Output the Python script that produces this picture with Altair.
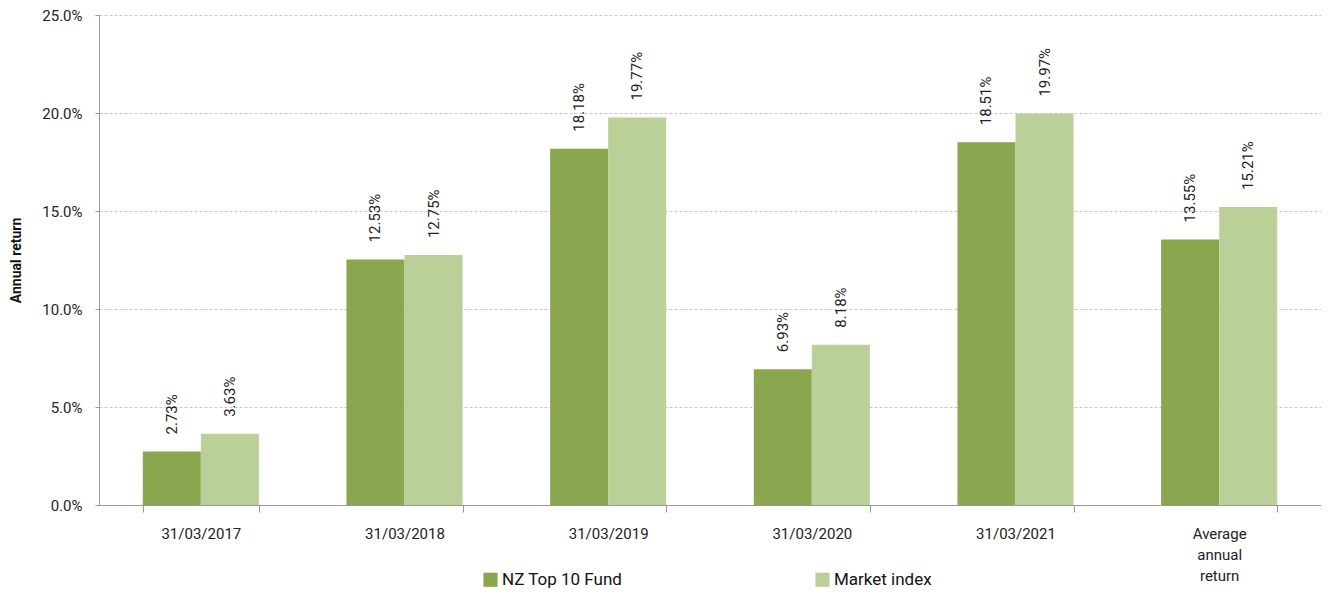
import altair as alt
import pandas as pd

categories = ["31/03/2017", "31/03/2018", "31/03/2019", "31/03/2020", "31/03/2021", "Average annual return"]
fund = [2.73, 12.53, 18.18, 6.93, 18.51, 13.55]
market = [3.63, 12.75, 19.77, 8.18, 19.97, 15.21]
series = ["NZ Top 10 Fund", "Market index"]
colors = ["#8AA64F", "#BBCF99"]

rows = []
for c, f, m in zip(categories, fund, market):
    rows.append({"cat": c, "series": series[0], "val": f / 100, "lbl": f"{f:.2f}%"})
    rows.append({"cat": c, "series": series[1], "val": m / 100, "lbl": f"{m:.2f}%"})
df = pd.DataFrame(rows)

FONT = "Roboto"

x = alt.X("cat:N", sort=categories, title=None,
          scale=alt.Scale(paddingInner=0.43, paddingOuter=0.215),
          axis=alt.Axis(labelAngle=0, labelFontSize=15, labelColor="#222", labelFont=FONT,
                        tickBand="extent", tickSize=7, tickColor="#999", domainColor="#999",
                        labelPadding=14, labelLineHeight=21, grid=False,
                        labelExpr="datum.label == 'Average annual return' ? ['Average','annual','return'] : datum.label"))
xo = alt.XOffset("series:N", sort=series)
y = alt.Y("val:Q", title="Annual return",
          scale=alt.Scale(domain=[0, 0.25], nice=False),
          axis=alt.Axis(format=".1%", values=[0, 0.05, 0.10, 0.15, 0.20, 0.25], labelFontSize=15,
                        labelColor="#222", labelFont=FONT, titleFont=FONT, titleFontSize=14,
                        titleFontWeight="bold", titleColor="#111", titlePadding=18,
                        tickSize=4, labelPadding=13, tickColor="#999", domainColor="#999",
                        gridColor="#bbb", gridDash=[3, 2], gridWidth=0.8))

color = alt.Color("series:N", sort=series, scale=alt.Scale(domain=series, range=colors),
                  legend=alt.Legend(title=None, orient="none", legendX=383, legendY=556,
                                    direction="horizontal", symbolType="square", symbolSize=200,
                                    symbolStrokeWidth=0, labelFontSize=17, labelFont=FONT,
                                    labelColor="#111", columnPadding=191, labelOffset=3))

bars = alt.Chart(df).mark_bar().encode(x=x, xOffset=xo, y=y, color=color)
text = alt.Chart(df).mark_text(angle=270, align="left", baseline="middle", dx=17,
                               fontSize=15, font=FONT, color="#222").encode(
    x=x, xOffset=xo, y="val:Q", text="lbl:N")

chart = (bars + text).properties(
    width=1222, height=490,
    autosize=alt.AutoSizeParams(type="none"),
    padding={"left": 91, "top": 7, "right": 0, "bottom": 83},
).configure_view(stroke=None)

chart.save("out.html", embed_options={"renderer": "svg", "actions": False})
